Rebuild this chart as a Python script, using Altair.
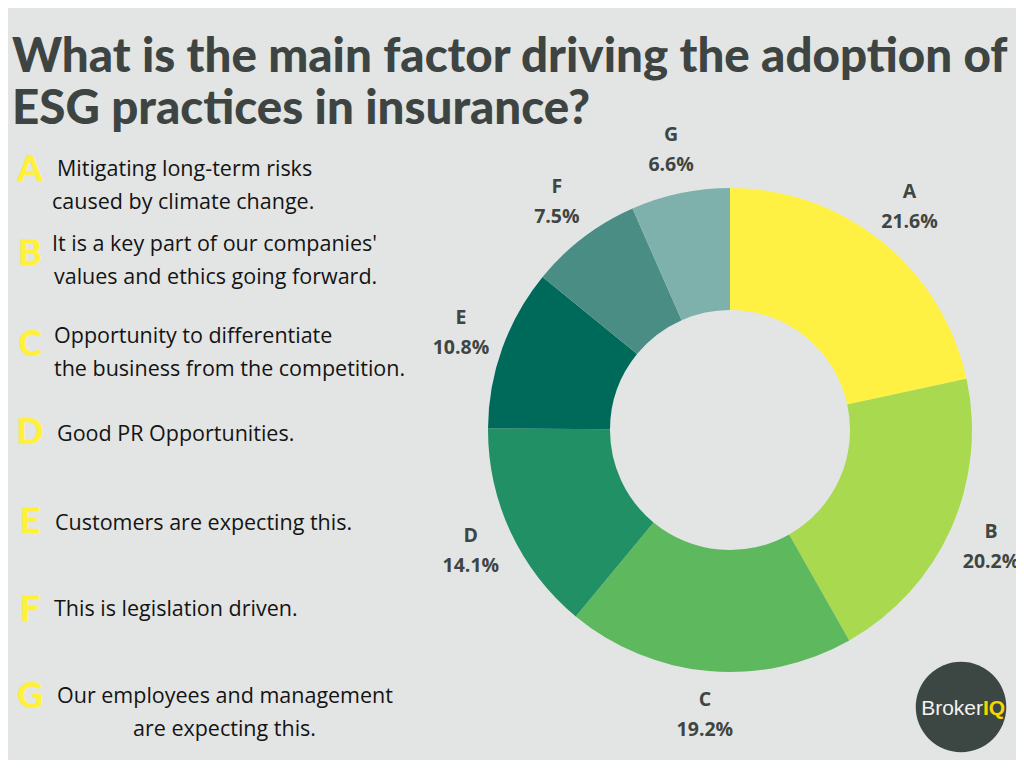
import altair as alt
import pandas as pd

# ---------------- data ----------------
LETTERS = ["A", "B", "C", "D", "E", "F", "G"]
SHARES = [21.6, 20.2, 19.2, 14.1, 10.8, 7.5, 6.6]
COLORS = ["#FFF143", "#A8D94F", "#5DB85E", "#219064", "#006A5A", "#4A8D84", "#7FB1AC"]
DESC_LINE1 = [
    "Mitigating long-term risks",
    "It is a key part of our companies'",
    "Opportunity to differentiate",
    "Good PR Opportunities.",
    "Customers are expecting this.",
    "This is legislation driven.",
    "Our employees and management",
]
DESC_LINE2 = [
    "caused by climate change.",
    "values and ethics going forward.",
    "the business from the competition.",
    "",
    "",
    "",
    "are expecting this.",
]
TITLE_LINES = ["What is the main factor driving the adoption of", "ESG practices in insurance?"]
LOGO_WORDS = ["Broker", "IQ"]

# ---------------- layout (chart pixel coords) ----------------
W, H = 1008, 752
CX, CY = 722, 422
LETTER_Y = [162, 246, 337, 425, 514, 602, 689]
LINE1_Y = [162, 237, 329, 427, 516, 602, 689]
LINE1_X = [49, 44, 46, 49, 47, 46, 49]
LINE2_X = [44, 46, 46, 0, 0, 0, 125]
BG = "#E3E5E4"
DARK = "#3D4441"

df = pd.DataFrame({
    "letter": LETTERS,
    "share": SHARES,
    "order": list(range(len(LETTERS))),
    "label": [f"{l}\n{s}%" for l, s in zip(LETTERS, SHARES)],
})
color_scale = alt.Scale(domain=LETTERS, range=COLORS)

arcs = alt.Chart(df).mark_arc(radius=242, innerRadius=120, stroke=None).encode(
    theta=alt.Theta("share:Q", stack=True),
    order=alt.Order("order:Q"),
    color=alt.Color("letter:N", scale=color_scale, legend=None),
    x=alt.value(CX),
    y=alt.value(CY),
)

labels = alt.Chart(df).mark_text(
    radius=286, font="Open Sans", fontWeight="bold", fontSize=19.5,
    color="#3F4542", lineBreak="\n", lineHeight=30, align="center", baseline="middle", dy=-15,
).encode(
    theta=alt.Theta("share:Q", stack=True),
    order=alt.Order("order:Q"),
    text="label:N",
    x=alt.value(CX),
    y=alt.value(CY),
)

leg = pd.DataFrame({
    "letter": LETTERS,
    "l1": DESC_LINE1,
    "l2": DESC_LINE2,
    "ly": LETTER_Y,
    "y1": LINE1_Y,
    "y2": [y + 33 for y in LINE1_Y],
    "x1": LINE1_X,
    "x2": LINE2_X,
})

leg_letters = alt.Chart(leg).mark_text(
    font="Lato", fontWeight=900, fontSize=36, color="#FFF03A", align="center", baseline="middle"
).encode(
    x=alt.value(22),
    y=alt.Y("ly:Q", scale=None, axis=None),
    text="letter:N",
)
leg_l1 = alt.Chart(leg).mark_text(
    font="Open Sans", fontSize=21.5, color="#141414", align="left", baseline="middle"
).encode(
    x=alt.X("x1:Q", scale=None, axis=None),
    y=alt.Y("y1:Q", scale=None, axis=None),
    text="l1:N",
)
leg_l2 = alt.Chart(leg).mark_text(
    font="Open Sans", fontSize=21.5, color="#141414", align="left", baseline="middle"
).encode(
    x=alt.X("x2:Q", scale=None, axis=None),
    y=alt.Y("y2:Q", scale=None, axis=None),
    text="l2:N",
)

title_df = pd.DataFrame({"t": TITLE_LINES, "ty": [64, 116]})
title = alt.Chart(title_df).mark_text(
    font="Lato", fontWeight=900, fontSize=47.5, color=DARK, align="left", baseline="alphabetic"
).encode(
    x=alt.value(4),
    y=alt.Y("ty:Q", scale=None, axis=None),
    text="t:N",
)

logo_df = pd.DataFrame({"w": [LOGO_WORDS[0]]})
logo_circle = alt.Chart(logo_df).mark_point(
    shape="circle", filled=True, size=8200, color="#3C4743", opacity=1
).encode(x=alt.value(953), y=alt.value(699))
logo_t1 = alt.Chart(pd.DataFrame({"w": [LOGO_WORDS[0]]})).mark_text(
    font="Liberation Sans", fontSize=21, color="#F2F2F2", align="right", baseline="alphabetic"
).encode(x=alt.value(975), y=alt.value(707), text="w:N")
logo_t2 = alt.Chart(pd.DataFrame({"w": [LOGO_WORDS[1]]})).mark_text(
    font="Liberation Sans", fontWeight="bold", fontSize=21, color="#F5D800", align="left", baseline="alphabetic"
).encode(x=alt.value(975), y=alt.value(707), text="w:N")

chart = alt.layer(
    arcs, labels, leg_letters, leg_l1, leg_l2, title, logo_circle, logo_t1, logo_t2
).properties(
    width=W, height=H, background=BG, padding=0,
    autosize=alt.AutoSizeParams(type="none"),
).configure_view(stroke=None)

chart.save("out.html", embed_options={"renderer": "svg", "actions": False})
